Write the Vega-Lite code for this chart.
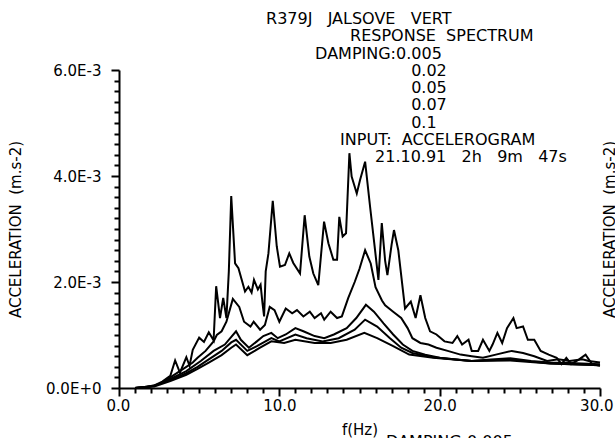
{
  "$schema": "https://vega.github.io/schema/vega-lite/v6.json",
  "width": 481,
  "height": 318,
  "autosize": {"type": "none"},
  "padding": {"left": 119, "top": 70, "right": 15, "bottom": 50},
  "background": "white",
  "config": {
    "view": {"stroke": null},
    "font": "DejaVu Sans",
    "axis": {
      "labelFont": "DejaVu Sans",
      "titleFont": "DejaVu Sans",
      "labelFontSize": 15,
      "titleFontSize": 15,
      "titleFontWeight": "normal",
      "labelColor": "black",
      "titleColor": "black",
      "domainColor": "black",
      "tickColor": "black",
      "domainWidth": 2,
      "tickWidth": 2,
      "grid": false,
      "labelOverlap": false
    }
  },
  "encoding": {
    "x": {
      "field": "f",
      "type": "quantitative",
      "scale": {"domain": [0, 30], "nice": false, "zero": false},
      "axis": {
        "title": "f(Hz)",
        "titlePadding": 9,
        "values": [0,1,2,3,4,5,6,7,8,9,10,11,12,13,14,15,16,17,18,19,20,21,22,23,24,25,26,27,28,29,30],
        "labelExpr": "datum.value % 10 == 0 ? format(datum.value, '.1f') : ''",
        "tickSize": {"condition": {"test": "datum.value % 10 == 0", "value": 8}, "value": 5},
        "labelPadding": 2,
        "labelFlush": true,
        "labelFlushOffset": 13,
        "labelOverlap": false,
        "labelBound": false
      }
    }
  },
  "layer": [
    {
      "data": {
        "values": [
          {"f": 1.0, "a": 0, "d": "0.005"},
          {"f": 1.6, "a": 0.00001, "d": "0.005"},
          {"f": 2.2, "a": 0.00005, "d": "0.005"},
          {"f": 2.7, "a": 0.00012, "d": "0.005"},
          {"f": 3.2, "a": 0.00023, "d": "0.005"},
          {"f": 3.5, "a": 0.00052, "d": "0.005"},
          {"f": 3.8, "a": 0.00029, "d": "0.005"},
          {"f": 4.2, "a": 0.00058, "d": "0.005"},
          {"f": 4.4, "a": 0.00042, "d": "0.005"},
          {"f": 4.6, "a": 0.00072, "d": "0.005"},
          {"f": 5.0, "a": 0.00095, "d": "0.005"},
          {"f": 5.3, "a": 0.00087, "d": "0.005"},
          {"f": 5.6, "a": 0.00105, "d": "0.005"},
          {"f": 5.9, "a": 0.0009, "d": "0.005"},
          {"f": 6.06, "a": 0.00192, "d": "0.005"},
          {"f": 6.3, "a": 0.00132, "d": "0.005"},
          {"f": 6.5, "a": 0.0017, "d": "0.005"},
          {"f": 6.7, "a": 0.00132, "d": "0.005"},
          {"f": 6.85, "a": 0.0022, "d": "0.005"},
          {"f": 7.0, "a": 0.00362, "d": "0.005"},
          {"f": 7.24, "a": 0.00235, "d": "0.005"},
          {"f": 7.45, "a": 0.00226, "d": "0.005"},
          {"f": 7.86, "a": 0.00182, "d": "0.005"},
          {"f": 8.07, "a": 0.00191, "d": "0.005"},
          {"f": 8.27, "a": 0.0018, "d": "0.005"},
          {"f": 8.42, "a": 0.00204, "d": "0.005"},
          {"f": 8.66, "a": 0.00186, "d": "0.005"},
          {"f": 8.83, "a": 0.00195, "d": "0.005"},
          {"f": 8.95, "a": 0.0016, "d": "0.005"},
          {"f": 9.05, "a": 0.00135, "d": "0.005"},
          {"f": 9.15, "a": 0.0022, "d": "0.005"},
          {"f": 9.32, "a": 0.00254, "d": "0.005"},
          {"f": 9.59, "a": 0.00353, "d": "0.005"},
          {"f": 9.84, "a": 0.00267, "d": "0.005"},
          {"f": 10.04, "a": 0.00229, "d": "0.005"},
          {"f": 10.35, "a": 0.00232, "d": "0.005"},
          {"f": 10.62, "a": 0.00254, "d": "0.005"},
          {"f": 10.87, "a": 0.00236, "d": "0.005"},
          {"f": 11.29, "a": 0.00216, "d": "0.005"},
          {"f": 11.58, "a": 0.00326, "d": "0.005"},
          {"f": 11.87, "a": 0.00248, "d": "0.005"},
          {"f": 12.12, "a": 0.00216, "d": "0.005"},
          {"f": 12.43, "a": 0.00194, "d": "0.005"},
          {"f": 12.79, "a": 0.00314, "d": "0.005"},
          {"f": 13.06, "a": 0.00273, "d": "0.005"},
          {"f": 13.37, "a": 0.00242, "d": "0.005"},
          {"f": 13.6, "a": 0.00242, "d": "0.005"},
          {"f": 13.74, "a": 0.00323, "d": "0.005"},
          {"f": 13.95, "a": 0.00286, "d": "0.005"},
          {"f": 14.16, "a": 0.00292, "d": "0.005"},
          {"f": 14.37, "a": 0.00443, "d": "0.005"},
          {"f": 14.51, "a": 0.00399, "d": "0.005"},
          {"f": 14.83, "a": 0.00367, "d": "0.005"},
          {"f": 15.03, "a": 0.00392, "d": "0.005"},
          {"f": 15.35, "a": 0.00427, "d": "0.005"},
          {"f": 15.66, "a": 0.00342, "d": "0.005"},
          {"f": 15.97, "a": 0.0026, "d": "0.005"},
          {"f": 16.18, "a": 0.00204, "d": "0.005"},
          {"f": 16.39, "a": 0.00311, "d": "0.005"},
          {"f": 16.6, "a": 0.0024, "d": "0.005"},
          {"f": 16.74, "a": 0.00213, "d": "0.005"},
          {"f": 17.0, "a": 0.0027, "d": "0.005"},
          {"f": 17.15, "a": 0.00298, "d": "0.005"},
          {"f": 17.42, "a": 0.0026, "d": "0.005"},
          {"f": 17.84, "a": 0.0015, "d": "0.005"},
          {"f": 18.2, "a": 0.00163, "d": "0.005"},
          {"f": 18.5, "a": 0.00132, "d": "0.005"},
          {"f": 18.8, "a": 0.00175, "d": "0.005"},
          {"f": 19.1, "a": 0.00132, "d": "0.005"},
          {"f": 19.4, "a": 0.00107, "d": "0.005"},
          {"f": 19.8, "a": 0.00101, "d": "0.005"},
          {"f": 20.3, "a": 0.00088, "d": "0.005"},
          {"f": 20.8, "a": 0.00085, "d": "0.005"},
          {"f": 21.1, "a": 0.00098, "d": "0.005"},
          {"f": 21.4, "a": 0.00082, "d": "0.005"},
          {"f": 21.8, "a": 0.00091, "d": "0.005"},
          {"f": 22.0, "a": 0.0007, "d": "0.005"},
          {"f": 22.4, "a": 0.0007, "d": "0.005"},
          {"f": 22.7, "a": 0.00091, "d": "0.005"},
          {"f": 23.1, "a": 0.0007, "d": "0.005"},
          {"f": 23.3, "a": 0.00082, "d": "0.005"},
          {"f": 23.6, "a": 0.00104, "d": "0.005"},
          {"f": 23.9, "a": 0.00085, "d": "0.005"},
          {"f": 24.2, "a": 0.00113, "d": "0.005"},
          {"f": 24.6, "a": 0.00132, "d": "0.005"},
          {"f": 24.8, "a": 0.00113, "d": "0.005"},
          {"f": 25.2, "a": 0.00116, "d": "0.005"},
          {"f": 25.5, "a": 0.00091, "d": "0.005"},
          {"f": 25.9, "a": 0.00091, "d": "0.005"},
          {"f": 26.3, "a": 0.0007, "d": "0.005"},
          {"f": 26.8, "a": 0.00063, "d": "0.005"},
          {"f": 27.3, "a": 0.00057, "d": "0.005"},
          {"f": 27.6, "a": 0.00045, "d": "0.005"},
          {"f": 27.9, "a": 0.00057, "d": "0.005"},
          {"f": 28.2, "a": 0.00045, "d": "0.005"},
          {"f": 28.7, "a": 0.00054, "d": "0.005"},
          {"f": 29.1, "a": 0.00063, "d": "0.005"},
          {"f": 29.5, "a": 0.00045, "d": "0.005"},
          {"f": 30.0, "a": 0.00042, "d": "0.005"},

          {"f": 1.0, "a": 0, "d": "0.02"},
          {"f": 2.2, "a": 0.00004, "d": "0.02"},
          {"f": 2.7, "a": 0.0001, "d": "0.02"},
          {"f": 3.2, "a": 0.0002, "d": "0.02"},
          {"f": 3.7, "a": 0.0003, "d": "0.02"},
          {"f": 4.2, "a": 0.0004, "d": "0.02"},
          {"f": 4.6, "a": 0.00048, "d": "0.02"},
          {"f": 4.9, "a": 0.00057, "d": "0.02"},
          {"f": 5.4, "a": 0.0007, "d": "0.02"},
          {"f": 5.9, "a": 0.00088, "d": "0.02"},
          {"f": 6.1, "a": 0.001, "d": "0.02"},
          {"f": 6.4, "a": 0.00107, "d": "0.02"},
          {"f": 6.7, "a": 0.00125, "d": "0.02"},
          {"f": 7.1, "a": 0.00168, "d": "0.02"},
          {"f": 7.5, "a": 0.00153, "d": "0.02"},
          {"f": 7.8, "a": 0.00125, "d": "0.02"},
          {"f": 8.2, "a": 0.00116, "d": "0.02"},
          {"f": 8.4, "a": 0.00125, "d": "0.02"},
          {"f": 8.8, "a": 0.0011, "d": "0.02"},
          {"f": 9.1, "a": 0.00119, "d": "0.02"},
          {"f": 9.4, "a": 0.00153, "d": "0.02"},
          {"f": 9.7, "a": 0.00147, "d": "0.02"},
          {"f": 10.0, "a": 0.00125, "d": "0.02"},
          {"f": 10.4, "a": 0.0015, "d": "0.02"},
          {"f": 10.8, "a": 0.00141, "d": "0.02"},
          {"f": 11.1, "a": 0.00147, "d": "0.02"},
          {"f": 11.5, "a": 0.00135, "d": "0.02"},
          {"f": 11.9, "a": 0.00144, "d": "0.02"},
          {"f": 12.2, "a": 0.00132, "d": "0.02"},
          {"f": 12.6, "a": 0.00141, "d": "0.02"},
          {"f": 12.8, "a": 0.00129, "d": "0.02"},
          {"f": 13.2, "a": 0.00144, "d": "0.02"},
          {"f": 13.6, "a": 0.00132, "d": "0.02"},
          {"f": 13.9, "a": 0.00135, "d": "0.02"},
          {"f": 14.3, "a": 0.0017, "d": "0.02"},
          {"f": 14.7, "a": 0.002, "d": "0.02"},
          {"f": 15.0, "a": 0.00225, "d": "0.02"},
          {"f": 15.35, "a": 0.0026, "d": "0.02"},
          {"f": 15.7, "a": 0.00235, "d": "0.02"},
          {"f": 16.0, "a": 0.0019, "d": "0.02"},
          {"f": 16.4, "a": 0.00165, "d": "0.02"},
          {"f": 16.6, "a": 0.00156, "d": "0.02"},
          {"f": 17.1, "a": 0.00144, "d": "0.02"},
          {"f": 17.6, "a": 0.00132, "d": "0.02"},
          {"f": 18.0, "a": 0.00113, "d": "0.02"},
          {"f": 18.3, "a": 0.00094, "d": "0.02"},
          {"f": 18.8, "a": 0.00085, "d": "0.02"},
          {"f": 19.3, "a": 0.00082, "d": "0.02"},
          {"f": 19.8, "a": 0.00076, "d": "0.02"},
          {"f": 20.5, "a": 0.0007, "d": "0.02"},
          {"f": 21.3, "a": 0.00063, "d": "0.02"},
          {"f": 22.0, "a": 0.0006, "d": "0.02"},
          {"f": 22.7, "a": 0.00057, "d": "0.02"},
          {"f": 23.5, "a": 0.00063, "d": "0.02"},
          {"f": 24.5, "a": 0.0007, "d": "0.02"},
          {"f": 25.2, "a": 0.00066, "d": "0.02"},
          {"f": 25.9, "a": 0.0006, "d": "0.02"},
          {"f": 26.7, "a": 0.00051, "d": "0.02"},
          {"f": 27.4, "a": 0.00054, "d": "0.02"},
          {"f": 28.1, "a": 0.00051, "d": "0.02"},
          {"f": 28.9, "a": 0.00054, "d": "0.02"},
          {"f": 29.3, "a": 0.00051, "d": "0.02"},
          {"f": 30.0, "a": 0.00048, "d": "0.02"},

          {"f": 1.0, "a": 0, "d": "0.05"},
          {"f": 2.2, "a": 0.00004, "d": "0.05"},
          {"f": 3.2, "a": 0.00017, "d": "0.05"},
          {"f": 4.2, "a": 0.00032, "d": "0.05"},
          {"f": 5.1, "a": 0.00051, "d": "0.05"},
          {"f": 5.9, "a": 0.0007, "d": "0.05"},
          {"f": 6.6, "a": 0.00082, "d": "0.05"},
          {"f": 7.3, "a": 0.00107, "d": "0.05"},
          {"f": 7.6, "a": 0.00091, "d": "0.05"},
          {"f": 8.1, "a": 0.00076, "d": "0.05"},
          {"f": 8.6, "a": 0.00088, "d": "0.05"},
          {"f": 9.0, "a": 0.00098, "d": "0.05"},
          {"f": 9.5, "a": 0.00104, "d": "0.05"},
          {"f": 9.9, "a": 0.00094, "d": "0.05"},
          {"f": 10.4, "a": 0.00101, "d": "0.05"},
          {"f": 11.0, "a": 0.00113, "d": "0.05"},
          {"f": 11.5, "a": 0.00107, "d": "0.05"},
          {"f": 12.2, "a": 0.00098, "d": "0.05"},
          {"f": 12.8, "a": 0.00094, "d": "0.05"},
          {"f": 13.4, "a": 0.00101, "d": "0.05"},
          {"f": 14.2, "a": 0.00113, "d": "0.05"},
          {"f": 14.8, "a": 0.00132, "d": "0.05"},
          {"f": 15.4, "a": 0.00157, "d": "0.05"},
          {"f": 15.9, "a": 0.00144, "d": "0.05"},
          {"f": 16.5, "a": 0.00122, "d": "0.05"},
          {"f": 17.1, "a": 0.00101, "d": "0.05"},
          {"f": 17.7, "a": 0.00082, "d": "0.05"},
          {"f": 18.3, "a": 0.0007, "d": "0.05"},
          {"f": 19.1, "a": 0.00063, "d": "0.05"},
          {"f": 20.0, "a": 0.00057, "d": "0.05"},
          {"f": 21.0, "a": 0.00054, "d": "0.05"},
          {"f": 22.0, "a": 0.00051, "d": "0.05"},
          {"f": 23.2, "a": 0.00054, "d": "0.05"},
          {"f": 24.4, "a": 0.00056, "d": "0.05"},
          {"f": 25.7, "a": 0.00051, "d": "0.05"},
          {"f": 26.9, "a": 0.00048, "d": "0.05"},
          {"f": 28.1, "a": 0.00047, "d": "0.05"},
          {"f": 30.0, "a": 0.00045, "d": "0.05"},

          {"f": 1.0, "a": 0, "d": "0.07"},
          {"f": 2.2, "a": 0.00004, "d": "0.07"},
          {"f": 3.2, "a": 0.00015, "d": "0.07"},
          {"f": 4.2, "a": 0.00028, "d": "0.07"},
          {"f": 4.9, "a": 0.0004, "d": "0.07"},
          {"f": 5.6, "a": 0.00054, "d": "0.07"},
          {"f": 6.4, "a": 0.0007, "d": "0.07"},
          {"f": 7.0, "a": 0.00086, "d": "0.07"},
          {"f": 7.3, "a": 0.00091, "d": "0.07"},
          {"f": 8.0, "a": 0.0007, "d": "0.07"},
          {"f": 8.6, "a": 0.00079, "d": "0.07"},
          {"f": 9.5, "a": 0.00094, "d": "0.07"},
          {"f": 10.0, "a": 0.00088, "d": "0.07"},
          {"f": 11.0, "a": 0.00101, "d": "0.07"},
          {"f": 11.7, "a": 0.00094, "d": "0.07"},
          {"f": 12.7, "a": 0.00088, "d": "0.07"},
          {"f": 13.7, "a": 0.00094, "d": "0.07"},
          {"f": 14.7, "a": 0.0011, "d": "0.07"},
          {"f": 15.35, "a": 0.00129, "d": "0.07"},
          {"f": 16.1, "a": 0.00116, "d": "0.07"},
          {"f": 16.9, "a": 0.00094, "d": "0.07"},
          {"f": 17.6, "a": 0.00076, "d": "0.07"},
          {"f": 18.3, "a": 0.00066, "d": "0.07"},
          {"f": 19.6, "a": 0.00058, "d": "0.07"},
          {"f": 22.0, "a": 0.00051, "d": "0.07"},
          {"f": 24.4, "a": 0.00054, "d": "0.07"},
          {"f": 26.9, "a": 0.00046, "d": "0.07"},
          {"f": 30.0, "a": 0.00043, "d": "0.07"},

          {"f": 1.0, "a": 0, "d": "0.1"},
          {"f": 2.2, "a": 0.00003, "d": "0.1"},
          {"f": 3.2, "a": 0.00013, "d": "0.1"},
          {"f": 4.2, "a": 0.00025, "d": "0.1"},
          {"f": 4.9, "a": 0.00036, "d": "0.1"},
          {"f": 5.6, "a": 0.00048, "d": "0.1"},
          {"f": 6.4, "a": 0.00062, "d": "0.1"},
          {"f": 7.0, "a": 0.00076, "d": "0.1"},
          {"f": 7.3, "a": 0.00082, "d": "0.1"},
          {"f": 8.0, "a": 0.00062, "d": "0.1"},
          {"f": 8.8, "a": 0.00076, "d": "0.1"},
          {"f": 9.5, "a": 0.00088, "d": "0.1"},
          {"f": 10.3, "a": 0.00085, "d": "0.1"},
          {"f": 11.0, "a": 0.00091, "d": "0.1"},
          {"f": 12.2, "a": 0.00085, "d": "0.1"},
          {"f": 13.2, "a": 0.00085, "d": "0.1"},
          {"f": 14.2, "a": 0.00091, "d": "0.1"},
          {"f": 15.3, "a": 0.00104, "d": "0.1"},
          {"f": 16.1, "a": 0.00094, "d": "0.1"},
          {"f": 17.1, "a": 0.00079, "d": "0.1"},
          {"f": 18.1, "a": 0.00063, "d": "0.1"},
          {"f": 19.6, "a": 0.00057, "d": "0.1"},
          {"f": 22.0, "a": 0.00051, "d": "0.1"},
          {"f": 24.4, "a": 0.00052, "d": "0.1"},
          {"f": 26.9, "a": 0.00046, "d": "0.1"},
          {"f": 30.0, "a": 0.00043, "d": "0.1"}
        ]
      },
      "mark": {"type": "line", "color": "black", "strokeWidth": 2, "clip": false},
      "encoding": {
        "y": {
          "field": "a",
          "type": "quantitative",
          "scale": {"domain": [0, 0.006], "nice": false, "zero": false},
          "axis": {
            "orient": "left",
            "title": "ACCELERATION\u00a0\u00a0(m.s-2)",
            "titlePadding": 22,
            "values": [0,0.0002,0.0004,0.0006,0.0008,0.001,0.0012,0.0014,0.0016,0.0018,0.002,0.0022,0.0024,0.0026,0.0028,0.003,0.0032,0.0034,0.0036,0.0038,0.004,0.0042,0.0044,0.0046,0.0048,0.005,0.0052,0.0054,0.0056,0.0058,0.006],
            "labelExpr": "abs(datum.value*500 - round(datum.value*500)) < 0.001 ? (datum.value == 0 ? '0.0E+0' : format(datum.value*1000, '.1f') + 'E-3') : ''",
            "tickSize": {"condition": {"test": "abs(datum.value*500 - round(datum.value*500)) < 0.001", "value": 8}, "value": 5},
            "labelPadding": 10,
            "labelFlush": false,
            "labelOverlap": false
          }
        },
        "detail": {"field": "d", "type": "nominal"}
      }
    },
    {
      "data": {
        "values": [
          {"f": 9.17, "ty": 0.00687, "label": "R379J\u00a0\u00a0\u00a0JALSOVE\u00a0\u00a0\u00a0VERT"},
          {"f": 14.41, "ty": 0.00655, "label": "RESPONSE\u00a0\u00a0SPECTRUM"},
          {"f": 12.23, "ty": 0.00621, "label": "DAMPING:0.005"},
          {"f": 18.22, "ty": 0.00589, "label": "0.02"},
          {"f": 18.22, "ty": 0.00557, "label": "0.05"},
          {"f": 18.22, "ty": 0.00525, "label": "0.07"},
          {"f": 18.22, "ty": 0.00491, "label": "0.1"},
          {"f": 13.79, "ty": 0.00459, "label": "INPUT:\u00a0\u00a0ACCELEROGRAM"},
          {"f": 15.97, "ty": 0.00426, "label": "21.10.91\u00a0\u00a0\u00a02h\u00a0\u00a0\u00a09m\u00a0\u00a0\u00a047s"},
          {"f": 16.66, "ty": -0.00111, "label": "DAMPING:0.005"}
        ]
      },
      "mark": {"type": "text", "align": "left", "baseline": "alphabetic", "fontSize": 16, "font": "DejaVu Sans", "color": "black", "clip": false},
      "encoding": {
        "y": {
          "field": "ty",
          "type": "quantitative",
          "scale": {"domain": [0, 0.006], "nice": false, "zero": false},
          "axis": {
            "orient": "right",
            "title": "ACCELERATION\u00a0\u00a0(m.s-2)",
            "titleAngle": 270,
            "titleBaseline": "top",
            "titlePadding": 2,
            "labels": false,
            "ticks": false,
            "domain": false
          }
        },
        "text": {"field": "label"}
      }
    }
  ],
  "resolve": {"axis": {"y": "independent"}}
}
